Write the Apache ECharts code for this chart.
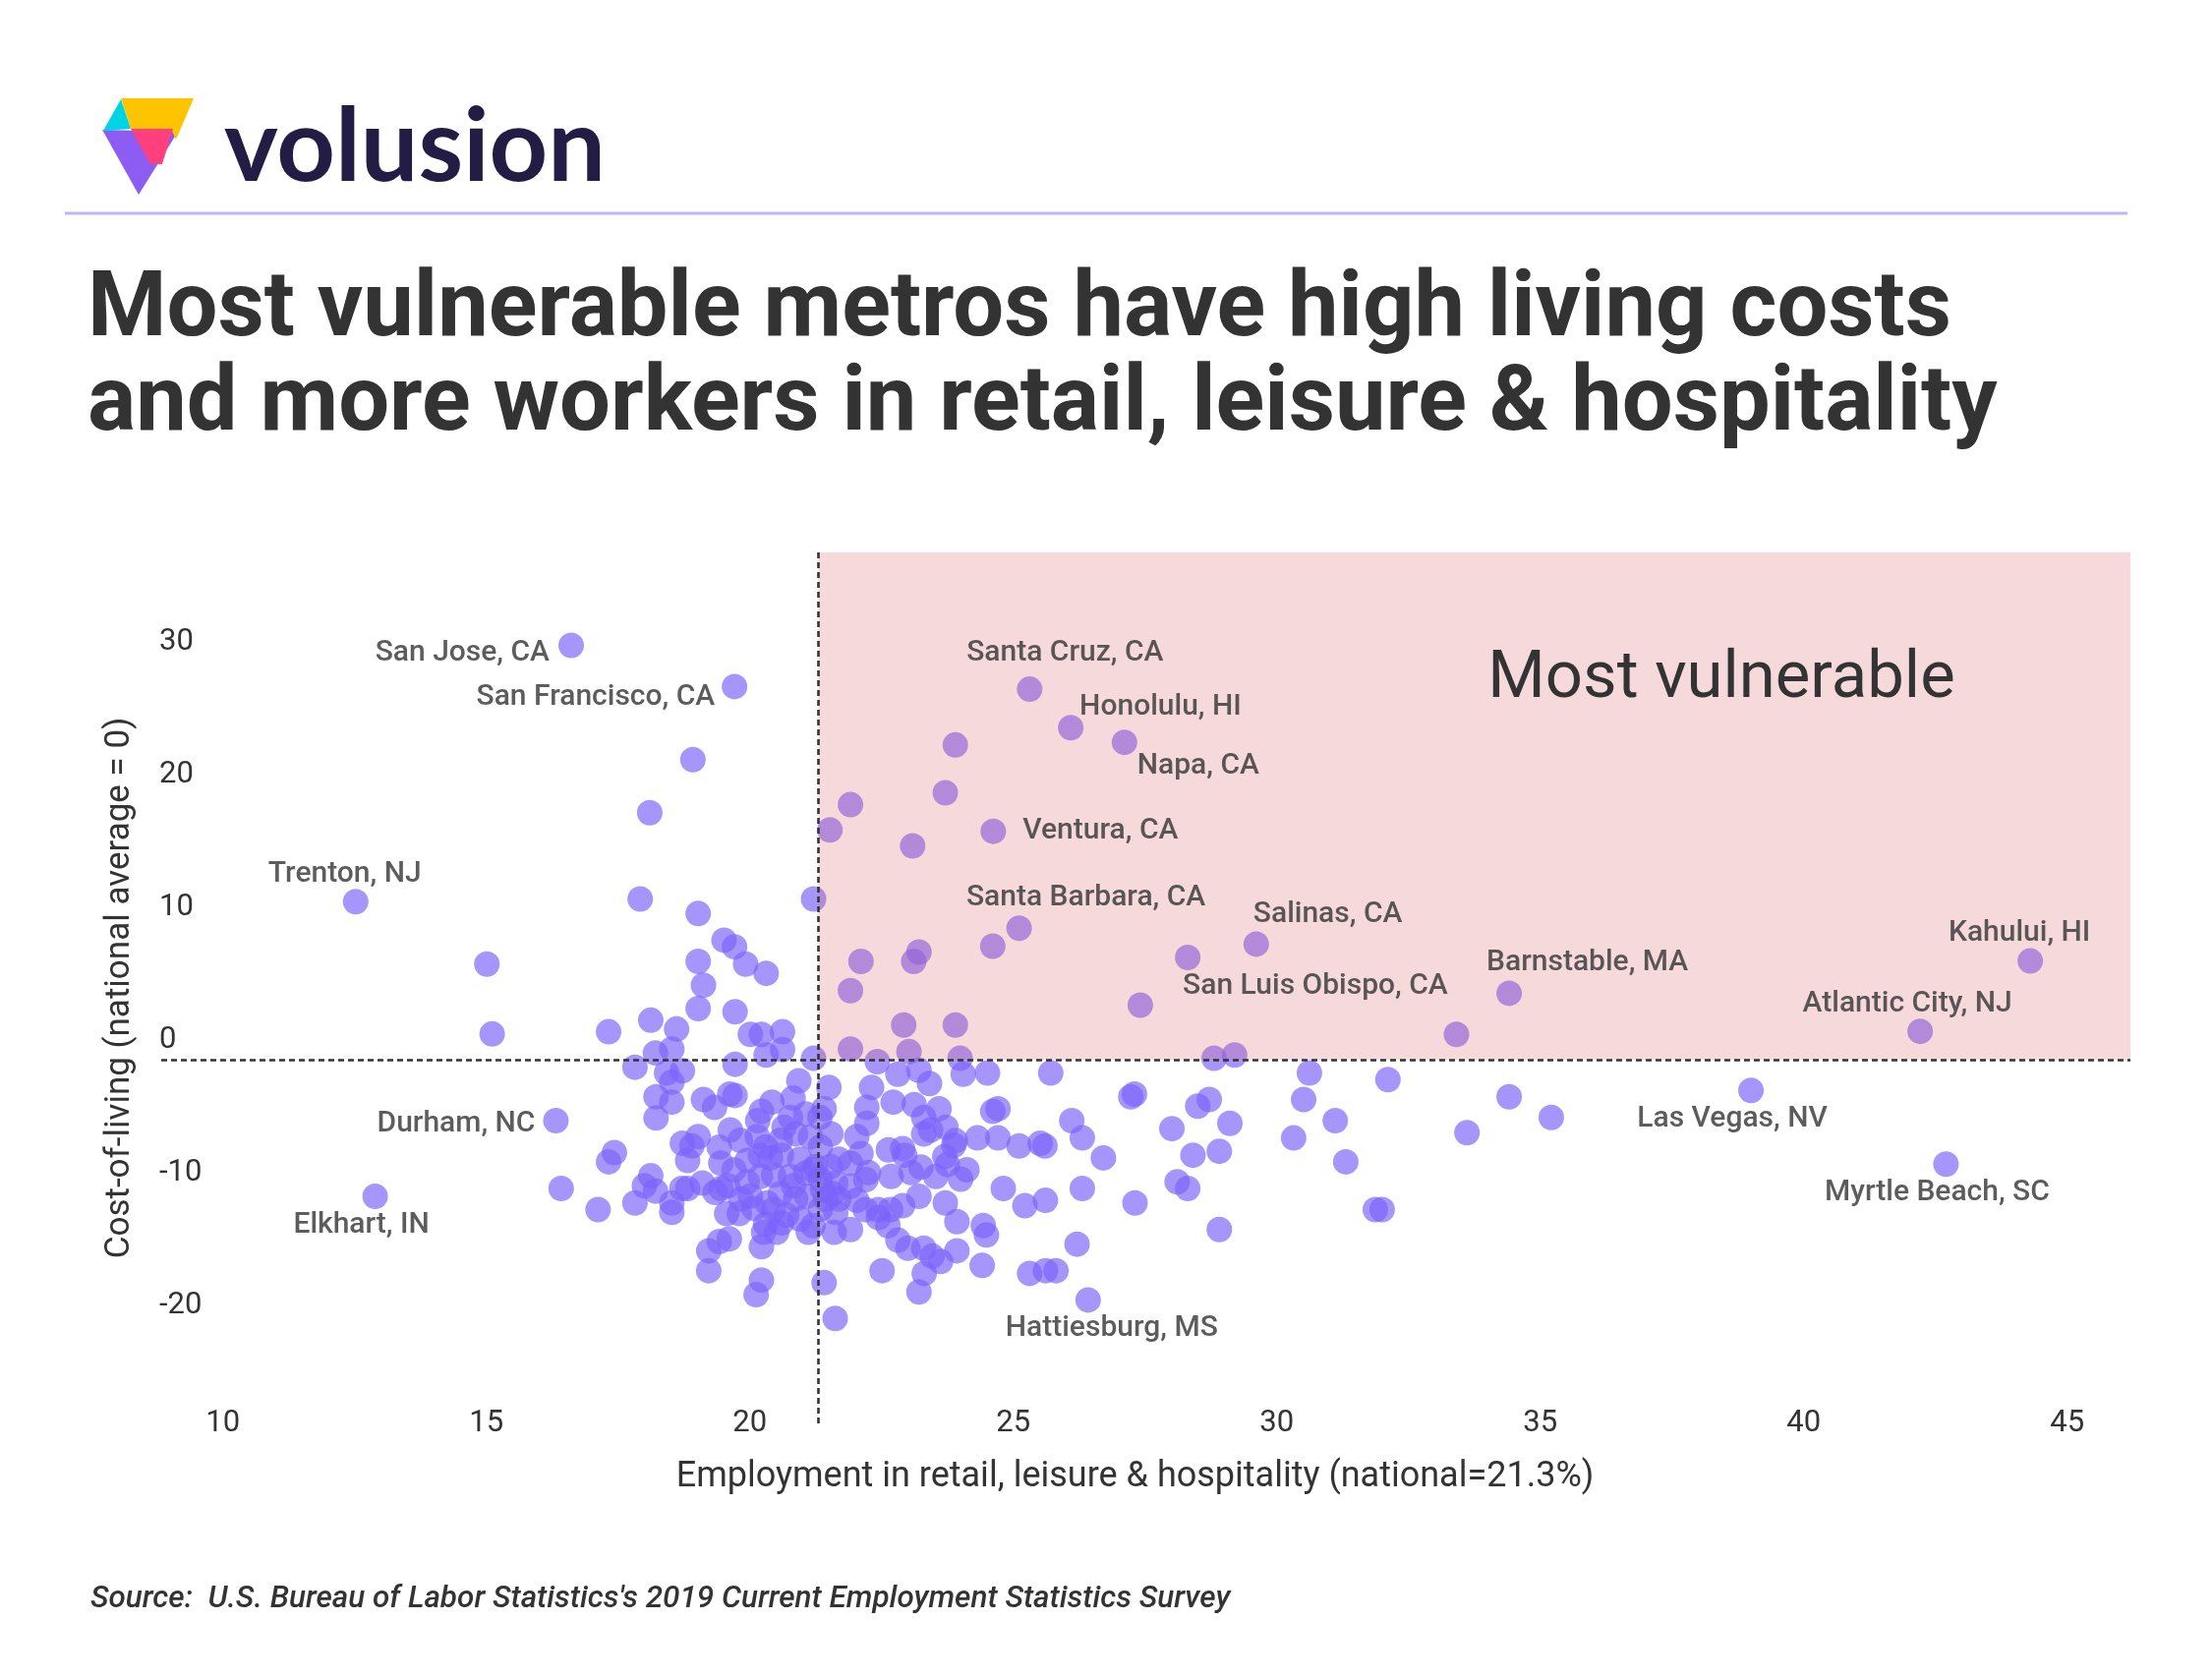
<!DOCTYPE html>
<html>
<head>
<meta charset="utf-8">
<script src="https://cdn.jsdelivr.net/npm/echarts@6/dist/echarts.min.js"></script>
<style>
  html, body { margin: 0; padding: 0; background: #ffffff; }
  #chart { width: 2250px; height: 1707px; }
</style>
</head>
<body>
<div id="chart"></div>
<script>
// ---------------- DATA ----------------
// Unlabeled metros: employment share in retail/leisure/hospitality (%), cost-of-living index vs national (=0)
const metroEmployment = [
  18.92,18.10,21.91,21.52,17.92,21.21,19.02,15.01,19.51,19.71,19.02,19.92,20.31,19.12,19.02,19.72,18.12,17.32,18.61,18.21,
  18.52,20.01,20.22,20.62,20.62,20.31,21.21,19.72,17.82,18.42,18.72,18.52,18.22,18.52,18.22,15.11,23.90,23.71,23.09,22.11,
  23.11,23.21,21.91,22.92,23.90,21.91,23.02,23.99,24.61,27.41,28.81,29.20,33.41,20.93,21.50,19.12,19.33,19.62,19.72,20.42,
  20.22,20.82,19.63,21.41,21.33,21.54,20.15,20.65,18.72,19.02,18.90,19.42,20.14,17.43,17.32,22.42,22.81,23.21,23.41,24.05,
  22.31,22.22,22.22,22.72,23.12,23.30,23.59,23.43,23.30,22.03,22.90,22.63,23.87,23.70,24.51,25.71,24.61,24.71,24.32,24.71,
  25.11,25.51,25.60,26.11,26.31,26.71,27.23,27.30,28.01,28.50,28.72,29.11,28.41,28.91,30.62,30.51,31.11,30.32,31.31,24.12,
  24.81,25.22,25.61,26.31,27.31,28.11,28.31,28.91,24.49,24.43,24.41,26.21,25.31,25.61,25.81,32.11,31.87,32.00,34.41,33.61,
  35.21,16.42,17.12,18.12,18.00,18.21,17.82,18.52,18.52,18.71,18.82,18.82,19.22,19.42,19.61,19.22,20.22,20.12,20.22,20.26,
  20.51,21.11,21.41,21.62,21.60,21.91,22.51,23.21,23.31,22.81,23.00,23.30,23.62,23.46,23.93,23.71,23.93,23.53,23.06,22.62,
  22.68,22.25,22.90,23.21,22.19,22.44,22.03,21.69,21.57,21.38,21.91,21.69,22.94,23.25,23.75,19.45,19.70,19.95,20.20,20.60,
  20.95,21.20,19.58,19.83,20.08,20.33,20.58,20.83,21.08,20.70,20.95,19.95,20.45,19.45,22.44,22.67,23.90,23.72,24.00,20.77,
  21.06,19.82,20.30,20.58,20.87,21.15,21.34,20.39,21.25,21.53,22.11,20.20,20.77,21.06,21.34,21.63,21.91,22.20,20.01,20.87,
  21.44,19.80,20.45,21.34,21.63,20.30,20.60,21.20,19.34,19.56,19.10
];
const metroCostOfLiving = [
  22.6,18.6,19.2,17.3,12.1,12.1,11.0,7.2,9.0,8.5,7.4,7.2,6.5,5.6,3.85,3.6,2.97,2.1,2.3,0.5,
  0.8,1.9,1.9,2.1,0.76,0.35,0.1,-0.35,-0.57,-1.0,-0.84,-1.7,-2.8,-3.2,-4.4,1.93,23.7,20.1,16.1,7.4,
  7.4,8.1,5.2,2.6,2.6,0.8,0.6,0.1,8.55,4.1,0.1,0.35,1.9,-1.6,-2.1,-3.0,-3.6,-2.6,-2.7,-3.2,
  -3.9,-2.9,-5.3,-3.7,-4.35,-5.6,-4.6,-5.1,-6.3,-5.8,-6.5,-6.6,-5.8,-7.0,-7.7,-0.15,-1.1,-0.8,-1.8,-1.1,
  -2.1,-3.6,-4.8,-3.2,-3.4,-4.35,-3.7,-5.3,-5.6,-5.8,-6.7,-6.8,-6.45,-7.3,-1.0,-1.0,-3.9,-3.7,-5.9,-5.9,
  -6.5,-6.3,-6.5,-4.6,-5.9,-7.4,-2.8,-2.6,-5.2,-3.5,-3.0,-4.8,-7.2,-6.9,-1.0,-3.0,-4.6,-5.9,-7.7,-8.3,
  -9.7,-11.0,-10.6,-9.7,-10.8,-9.2,-9.7,-12.8,-13.2,-12.5,-15.5,-13.9,-16.1,-15.9,-15.9,-1.5,-11.3,-11.3,-2.8,-5.5,
  -4.35,-9.7,-11.3,-8.75,-9.5,-9.9,-10.8,-10.8,-11.5,-9.7,-9.7,-7.6,-14.4,-13.7,-13.5,-15.9,-16.6,-17.7,-14.1,-13.0,
  -13.0,-13.0,-16.8,-19.5,-13.0,-12.8,-15.9,-17.5,-16.1,-13.6,-14.2,-14.2,-15.2,-14.8,-14.4,-10.8,-12.2,-8.8,-8.5,-12.5,
  -8.8,-8.5,-11.0,-10.3,-11.3,-11.3,-10.6,-10.5,-10.1,-9.8,-7.8,-7.5,-7.2,-8.1,-7.9,-7.8,-8.3,-7.6,-7.2,-7.2,
  -7.5,-8.3,-9.5,-10.5,-11.2,-10.8,-10.1,-9.5,-10.3,-11.7,-12.0,-9.2,-8.7,-9.7,-11.9,-11.3,-6.1,-5.1,-9.0,-4.35,
  -4.1,-6.08,-6.57,-6.08,-5.59,-5.83,-6.57,-7.4,-8.06,-8.06,-7.07,-8.8,-8.8,-8.55,-9.04,-9.29,-9.54,-9.04,-10.28,-10.5,
  -10.53,-11.6,-11.3,-11.27,-11.52,-12.4,-12.3,-12.5,-10.0,-11.6,-9.3
];

// Labeled metros
const cityNames = [
  'San Jose, CA','San Francisco, CA','Trenton, NJ','Durham, NC','Elkhart, IN',
  'Santa Cruz, CA','Honolulu, HI','Napa, CA','Ventura, CA','Santa Barbara, CA',
  'Salinas, CA','San Luis Obispo, CA','Barnstable, MA','Kahului, HI','Atlantic City, NJ',
  'Las Vegas, NV','Myrtle Beach, SC','Hattiesburg, MS'
];
const cityEmployment = [16.61,19.71,12.52,16.32,12.89,25.31,26.09,27.11,24.62,25.11,29.61,28.31,34.41,44.30,42.21,39.00,42.70,26.42];
const cityCostOfLiving = [31.2,28.1,11.9,-4.6,-10.3,27.9,25.0,23.9,17.2,9.9,8.7,7.7,5.0,7.43,2.13,-2.32,-7.87,-18.1];

const nationalEmployment = 21.3;
const nationalCost = 0;

const xTickValues = [10, 15, 20, 25, 30, 35, 40, 45];
const yTickValues = [-20, -10, 0, 10, 20, 30];

// ---------------- LAYOUT / STYLE ----------------
const X_MIN = 8.83, X_MAX = 46.2, Y_MIN = -27.4, Y_MAX = 38.2;
const FONT = 'Roboto, "Noto Sans", sans-serif';
const TEXT = '#333333';

// label placement per labeled city (align, offset in px relative to dot center)
const labelPlacement = {
  'San Jose, CA':        { align: 'right',  offset: [-22, 8] },
  'San Francisco, CA':   { align: 'right',  offset: [-20, 11] },
  'Trenton, NJ':         { align: 'center', offset: [-11, -28] },
  'Durham, NC':          { align: 'right',  offset: [-21, 3] },
  'Elkhart, IN':         { align: 'center', offset: [-14, 29] },
  'Santa Cruz, CA':      { align: 'center', offset: [36, -37] },
  'Honolulu, HI':        { align: 'left',   offset: [9, -21] },
  'Napa, CA':            { align: 'left',   offset: [13, 24] },
  'Ventura, CA':         { align: 'left',   offset: [30, 0] },
  'Santa Barbara, CA':   { align: 'center', offset: [68, -31] },
  'Salinas, CA':         { align: 'left',   offset: [-3, -30] },
  'San Luis Obispo, CA': { align: 'left',   offset: [-5, 30] },
  'Barnstable, MA':      { align: 'left',   offset: [-23, -31] },
  'Kahului, HI':         { align: 'center', offset: [-11, -28] },
  'Atlantic City, NJ':   { align: 'center', offset: [-13, -28] },
  'Las Vegas, NV':       { align: 'center', offset: [-19, 29] },
  'Myrtle Beach, SC':    { align: 'center', offset: [-9, 29] },
  'Hattiesburg, MS':     { align: 'center', offset: [24, 29] }
};

const allPoints = metroEmployment.map((x, i) => [x, metroCostOfLiving[i]])
  .concat(cityEmployment.map((x, i) => [x, cityCostOfLiving[i]]));

const labelData = cityNames.map((n, i) => ({
  name: n,
  value: [cityEmployment[i], cityCostOfLiving[i]],
  label: {
    show: true,
    position: 'inside',
    align: labelPlacement[n].align,
    verticalAlign: 'middle',
    offset: labelPlacement[n].offset
  }
}));

const chart = echarts.init(document.getElementById('chart'), null, { renderer: 'canvas' });

const option = {
  backgroundColor: '#ffffff',
  animation: false,
  textStyle: { fontFamily: FONT },
  grid: { left: 164, right: 83, top: 562, bottom: 259 },
  xAxis: {
    type: 'value',
    min: X_MIN, max: X_MAX,
    axisLine: { show: false },
    axisTick: { show: false },
    splitLine: { show: false },
    axisLabel: {
      customValues: xTickValues,
      fontSize: 31, color: TEXT, fontFamily: FONT,
      verticalAlign: 'middle', margin: 0
    },
    name: 'Employment in retail, leisure & hospitality (national=21.3%)',
    nameLocation: 'middle',
    nameGap: 37,
    nameTextStyle: { fontSize: 36, color: TEXT, fontFamily: FONT, padding: [0, 22, 0, 0] }
  },
  yAxis: {
    type: 'value',
    min: Y_MIN, max: Y_MAX,
    axisLine: { show: false },
    axisTick: { show: false },
    splitLine: { show: false },
    axisLabel: {
      customValues: yTickValues,
      inside: true,
      align: 'left',
      verticalAlign: 'bottom',
      lineHeight: 31,
      padding: [0, 0, 4, 0],
      margin: -2,
      fontSize: 31, color: TEXT, fontFamily: FONT
    },
    name: 'Cost-of-living (national average = 0)',
    nameLocation: 'middle',
    nameGap: 24,
    nameTextStyle: { fontSize: 35, color: TEXT, fontFamily: FONT }
  },
  graphic: [
    // logo mark
    { type: 'polygon', shape: { points: [[104,132],[181,134],[141,198]] }, style: { fill: '#8C5CF3' }, z: 10 },
    { type: 'polygon', shape: { points: [[123,100],[197,100],[179,142],[174,131],[133,131]] }, style: { fill: '#FFC400' }, z: 11 },
    { type: 'polygon', shape: { points: [[123,101],[105,133],[133,131]] }, style: { fill: '#00D3E2' }, z: 11 },
    { type: 'polygon', shape: { points: [[133,131],[176,131],[165,167],[153,167]] }, style: { fill: '#FF3F7E' }, z: 12 },
    { type: 'text', style: { text: 'volusion', x: 228, y: 150, font: 'bold 104px Lato, "Open Sans", sans-serif', fill: '#231D45', textAlign: 'left', textVerticalAlign: 'middle' }, z: 10 },
    // rule under logo
    { type: 'line', shape: { x1: 66, y1: 217, x2: 2164, y2: 217 }, style: { stroke: '#BDB3FF', lineWidth: 3 }, z: 10 },
    // title
    { type: 'text', style: { text: 'Most vulnerable metros have high living costs', x: 89, y: 318, font: 'bold 92px Roboto, sans-serif', fill: TEXT, textAlign: 'left', textVerticalAlign: 'middle' }, z: 10 },
    { type: 'text', style: { text: 'and more workers in retail, leisure & hospitality', x: 89, y: 414, font: 'bold 92px Roboto, sans-serif', fill: TEXT, textAlign: 'left', textVerticalAlign: 'middle' }, z: 10 },
    // quadrant annotation
    { type: 'text', style: { text: 'Most vulnerable', x: 1751, y: 692, font: '67px Roboto, sans-serif', fill: TEXT, textAlign: 'center', textVerticalAlign: 'middle' }, z: 20 },
    // source
    { type: 'text', style: { text: "Source:  U.S. Bureau of Labor Statistics's 2019 Current Employment Statistics Survey", x: 92, y: 1627, font: 'italic 500 31.5px Roboto, sans-serif', fill: TEXT, textAlign: 'left', textVerticalAlign: 'middle' }, z: 10 }
  ],
  series: [
    {
      type: 'scatter',
      data: allPoints,
      symbolSize: 26,
      itemStyle: { color: 'rgb(122,98,250)', opacity: 0.67 },
      silent: true,
      z: 2,
      markArea: {
        silent: true,
        z: 3,
        itemStyle: { color: 'rgba(219,103,111,0.25)' },
        data: [[{ coord: [nationalEmployment, nationalCost] }, { coord: [X_MAX, Y_MAX] }]]
      },
      markLine: {
        silent: true,
        z: 4,
        symbol: ['none', 'none'],
        label: { show: false },
        lineStyle: { color: '#333333', width: 2.6, type: [6, 4] },
        data: [
          [{ coord: [nationalEmployment, Y_MIN] }, { coord: [nationalEmployment, Y_MAX] }],
          [{ coord: [X_MIN, nationalCost] }, { coord: [X_MAX, nationalCost] }]
        ]
      }
    },
    {
      type: 'scatter',
      data: labelData,
      symbolSize: 26,
      itemStyle: { color: 'rgba(0,0,0,0)' },
      silent: true,
      z: 6,
      label: {
        show: true,
        formatter: '{b}',
        fontSize: 30,
        fontWeight: 500,
        color: TEXT,
        fontFamily: FONT
      }
    }
  ]
};

chart.setOption(option);
</script>
</body>
</html>
